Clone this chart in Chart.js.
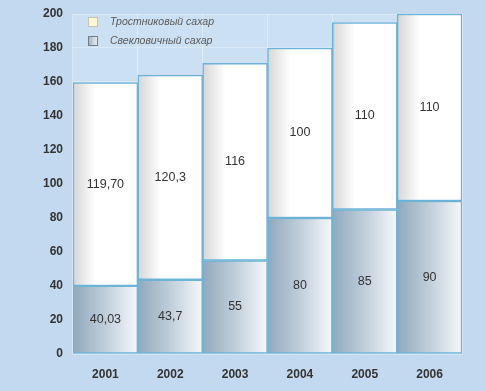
<!DOCTYPE html>
<html>
<head>
<meta charset="utf-8">
<script src="https://cdn.jsdelivr.net/npm/chart.js@4/dist/chart.umd.min.js"></script>
<style>
  html, body { margin: 0; padding: 0; background: #c3d9ef; }
  #wrap { width: 486px; height: 391px; }
</style>
</head>
<body>
<div id="wrap"><canvas id="c" width="486" height="391"></canvas></div>
<script>
const years = ["2001", "2002", "2003", "2004", "2005", "2006"];
const beet = [40.03, 43.7, 55, 80, 85, 90];
const cane = [119.7, 120.3, 116, 100, 110, 110];
const beetText = ["40,03", "43,7", "55", "80", "85", "90"];
const caneText = ["119,70", "120,3", "116", "100", "110", "110"];
const legendNames = ["Тростниковый сахар", "Свекловичный сахар"];

// horizontal gradient across one bar
function barGradient(context, stops, fallback) {
  const chart = context.chart;
  if (!chart.chartArea || !chart.scales.x) return fallback;
  const x = chart.scales.x.getPixelForValue(context.dataIndex);
  const half = (chart.scales.x.width / years.length) / 2;
  const g = chart.ctx.createLinearGradient(x - half, 0, x + half, 0);
  stops.forEach(([pos, col]) => g.addColorStop(pos, col));
  return g;
}

const canePaint = (ctx) => barGradient(ctx, [[0, "#d6d6d6"], [0.35, "#ffffff"], [1, "#ffffff"]], "#ffffff");
const beetPaint = (ctx) => barGradient(ctx, [[0, "#90a9bc"], [0.5, "#c0cedb"], [1, "#f6f8fa"]], "#b8c8d4");

const plotBg = {
  id: "plotBg",
  beforeDraw(chart) {
    const { ctx, chartArea: a } = chart;
    ctx.save();
    ctx.fillStyle = "#cce0f4";
    ctx.fillRect(a.left, a.top, a.right - a.left, a.bottom - a.top);
    ctx.restore();
  },
};

const valueLabels = {
  id: "valueLabels",
  afterDatasetsDraw(chart) {
    const { ctx } = chart;
    const texts = [beetText, caneText];
    ctx.save();
    ctx.font = "12.5px 'Liberation Sans', Arial, sans-serif";
    ctx.fillStyle = "#333333";
    ctx.textAlign = "center";
    ctx.textBaseline = "middle";
    chart.data.datasets.forEach((ds, di) => {
      chart.getDatasetMeta(di).data.forEach((bar, i) => {
        const y = (bar.y + bar.base) / 2;
        ctx.fillText(texts[di][i], bar.x, y);
      });
    });
    ctx.restore();
  },
};

const boxLegend = {
  id: "boxLegend",
  afterDraw(chart) {
    const { ctx, chartArea: a } = chart;
    ctx.save();
    ctx.font = "italic 10.5px 'Liberation Sans', Arial, sans-serif";
    ctx.textBaseline = "middle";
    const rows = [
      { y: a.top + 8, fill: "#fdf9d6", stroke: "#c9c6a8" },
      { y: a.top + 27, fill: null, stroke: "#6f7f90" },
    ];
    rows.forEach((r, i) => {
      const bx = a.left + 15, by = r.y - 5, s = 10;
      if (r.fill) {
        ctx.fillStyle = r.fill;
      } else {
        const g = ctx.createLinearGradient(bx, 0, bx + s, 0);
        g.addColorStop(0, "#9aaec0");
        g.addColorStop(1, "#f2f5f8");
        ctx.fillStyle = g;
      }
      ctx.fillRect(bx, by, s, s);
      ctx.strokeStyle = r.stroke;
      ctx.lineWidth = 1;
      ctx.strokeRect(bx + 0.5, by + 0.5, s - 1, s - 1);
      ctx.fillStyle = "#5a5a5a";
      ctx.fillText(legendNames[i], a.left + 37, r.y);
    });
    ctx.restore();
  },
};

new Chart(document.getElementById("c"), {
  type: "bar",
  data: {
    labels: years,
    datasets: [
      {
        label: legendNames[1],
        data: beet,
        backgroundColor: beetPaint,
        borderColor: "#6db3d6",
        borderWidth: 1.5,
        borderSkipped: false,
      },
      {
        label: legendNames[0],
        data: cane,
        backgroundColor: canePaint,
        borderColor: "#6db3d6",
        borderWidth: 1.5,
        borderSkipped: false,
      },
    ],
  },
  options: {
    responsive: false,
    animation: false,
    layout: { padding: { top: 14, right: 24, left: 0, bottom: 0 } },
    datasets: { bar: { barPercentage: 1, categoryPercentage: 1 } },
    plugins: { legend: { display: false }, tooltip: { enabled: false } },
    scales: {
      x: {
        stacked: true,
        grid: { color: "rgba(255,255,255,0.35)", drawTicks: false, offset: true },
        border: { display: false },
        ticks: {
          padding: 13,
          color: "#333333",
          font: { family: "'Liberation Sans', Arial, sans-serif", size: 12, weight: "bold" },
        },
        afterFit(scale) {
          scale.height = 37;
          scale.paddingLeft = 0;
          scale.paddingRight = 0;
        },
      },
      y: {
        stacked: true,
        min: 0,
        max: 200,
        grid: { color: "rgba(255,255,255,0.3)", drawTicks: false },
        border: { display: false },
        ticks: {
          stepSize: 20,
          padding: 10,
          color: "#333333",
          font: { family: "'Liberation Sans', Arial, sans-serif", size: 12, weight: "bold" },
        },
        afterFit(scale) {
          scale.width = 73;
          scale.paddingTop = 0;
          scale.paddingBottom = 0;
        },
      },
    },
  },
  plugins: [plotBg, valueLabels, boxLegend],
});
</script>
</body>
</html>
